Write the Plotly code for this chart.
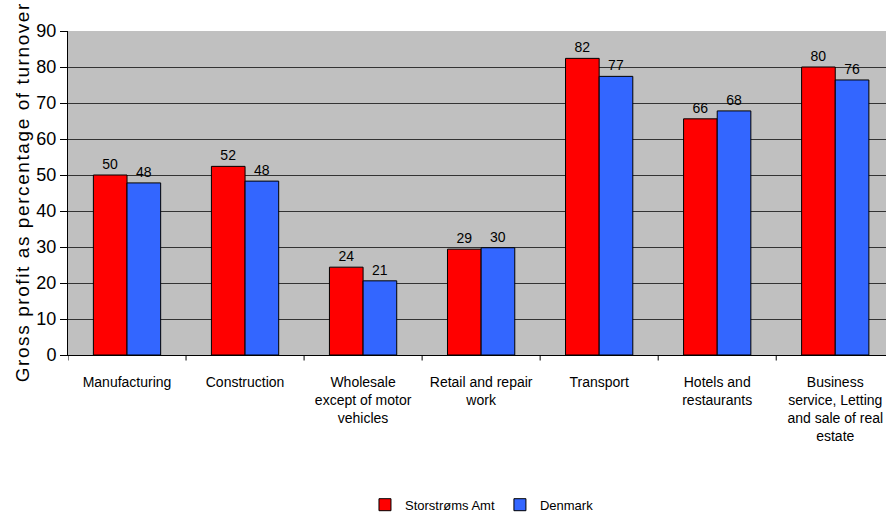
import plotly.graph_objects as go

categories = ["Manufacturing", "Construction", "Wholesale<br>except of motor<br>vehicles",
              "Retail and repair<br>work", "Transport", "Hotels and<br>restaurants",
              "Business<br>service, Letting<br>and sale of real<br>estate"]
storstroms = [50.0, 52.4, 24.4, 29.4, 82.4, 65.6, 80.0]
denmark = [47.8, 48.3, 20.6, 29.8, 77.4, 67.8, 76.4]
series_names = ["Storstrøms Amt", "Denmark"]
y_ticks = [0, 10, 20, 30, 40, 50, 60, 70, 80, 90]
y_title = "Gross profit as percentage of turnover"

font_main = "Liberation Sans, Arial"
spaced_title = "\u200a".join(list(y_title))

fig = go.Figure()
for name, vals, col in [(series_names[0], storstroms, "#FF0000"),
                        (series_names[1], denmark, "#3366FF")]:
    fig.add_trace(go.Bar(
        x=list(range(len(categories))), y=vals, name=name,
        marker=dict(color=col, line=dict(color="#000000", width=1)),
        text=[f"{v:.0f}" for v in vals], textposition="outside",
        textfont=dict(family=font_main, size=14, color="#000000"),
        cliponaxis=False,
    ))

fig.update_layout(
    width=886, height=514,
    margin=dict(l=68, r=0, t=31, b=159, autoexpand=False),
    paper_bgcolor="white", plot_bgcolor="#C0C0C0",
    barmode="group", bargap=0.43, bargroupgap=0,
    showlegend=True,
    legend=dict(orientation="h", xref="container", x=0.544, xanchor="center",
                yref="container", y=0.018, yanchor="middle",
                font=dict(family=font_main, size=13, color="#000000"),
                itemwidth=30, traceorder="normal", tracegroupgap=0),
    xaxis=dict(
        tickmode="array", tickvals=list(range(len(categories))), ticktext=categories,
        range=[-0.5, 6.43], automargin=False,
        showline=True, linecolor="#000000", linewidth=1,
        ticks="", showgrid=False, ticklabelstandoff=14,
        tickfont=dict(family=font_main, size=14, color="#000000"),
    ),
    yaxis=dict(
        range=[0, 90], tickvals=y_ticks, automargin=False,
        showline=True, linecolor="#000000", linewidth=1,
        ticks="outside", ticklen=7, tickcolor="#000000",
        showgrid=True, gridcolor="#333333", gridwidth=1,
        tickfont=dict(family=font_main, size=18, color="#000000"),
        title=dict(text=spaced_title,
                   font=dict(family=font_main, size=19, color="#000000"), standoff=1),
        zeroline=False,
    ),
)
# category boundary tick marks
for b in [0.5 + i for i in range(-1, 6)]:
    fig.add_shape(type="line", xref="x", yref="paper", x0=b, x1=b, y0=0, y1=-0.017,
                  line=dict(color="#000000", width=1))

fig.write_html("out.html", config={"displayModeBar": False},
               post_script="document.body.style.margin='0';document.body.style.overflow='hidden';")
